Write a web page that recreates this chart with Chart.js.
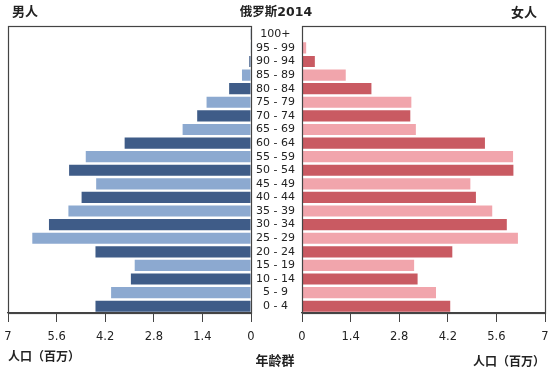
<!DOCTYPE html>
<html>
<head>
<meta charset="utf-8">
<script src="https://cdn.jsdelivr.net/npm/chart.js@4.4.1/dist/chart.umd.min.js"></script>
<style>
  html, body { margin: 0; padding: 0; background: #fff; }
  #wrap { position: relative; width: 552px; height: 370px; overflow: hidden; font-family: "DejaVu Sans", "Noto Sans CJK SC", sans-serif; color: #222; }
  .cv { position: absolute; top: 0; }
  .t { position: absolute; white-space: nowrap; font-weight: bold; line-height: 1; }
</style>
</head>
<body>
<div id="wrap">
  <div class="cv" style="left:290px;width:262px;height:370px;"><canvas id="female"></canvas></div>
  <div class="cv" style="left:0;width:302px;height:370px;"><canvas id="male"></canvas></div>
  <div class="t" id="tMale" style="left:12px;top:5px;font-size:13px;">男人</div>
  <div class="t" id="tTitle" style="left:276px;top:6px;font-size:12.5px;transform:translateX(-50%);">俄罗斯2014</div>
  <div class="t" id="tFemale" style="left:511px;top:6px;font-size:13px;">女人</div>
  <div class="t" id="tXL" style="left:8px;top:351px;font-size:12px;">人口（百万）</div>
  <div class="t" id="tAge" style="left:275px;top:354px;font-size:13px;transform:translateX(-50%);">年龄群</div>
  <div class="t" id="tXR" style="left:473px;top:356px;font-size:12px;">人口（百万）</div>
</div>
<script>
// ---- data (millions), age groups from youngest to oldest ----
const ageGroups = ['0 - 4','5 - 9','10 - 14','15 - 19','20 - 24','25 - 29','30 - 34','35 - 39','40 - 44','45 - 49','50 - 54','55 - 59','60 - 64','65 - 69','70 - 74','75 - 79','80 - 84','85 - 89','90 - 94','95 - 99','100+'];
const maleValues   = [4.48, 4.03, 3.46, 3.35, 4.48, 6.30, 5.82, 5.26, 4.88, 4.46, 5.24, 4.76, 3.64, 1.97, 1.55, 1.28, 0.63, 0.26, 0.05, 0.01, 0.02];
const femaleValues = [4.27, 3.86, 3.33, 3.23, 4.33, 6.22, 5.90, 5.48, 5.01, 4.85, 6.09, 6.08, 5.27, 3.28, 3.12, 3.15, 2.00, 1.26, 0.37, 0.12, 0.02];
const xTickValues  = [0, 1.4, 2.8, 4.2, 5.6, 7];

const maleDark = '#3f5c88', maleLight = '#8ca9d0';
const femaleDark = '#c95a62', femaleLight = '#f1a5ac';
const lineColor = '#444';
const tickFont = { family: 'DejaVu Sans', size: 11.5 };

const frame = {
  id: 'frame',
  afterDraw(chart) {
    const a = chart.chartArea, c = chart.ctx;
    const top = Math.round(a.top - 1.5);
    c.save();
    c.strokeStyle = lineColor;
    c.lineWidth = 1.2;
    c.strokeRect(Math.round(a.left) + 0.5, top + 0.5, Math.round(a.right - a.left), Math.round(a.bottom - top));
    c.restore();
  }
};

function xScale(reverse) {
  return {
    type: 'linear', min: 0, max: 7, reverse: reverse,
    afterBuildTicks: s => { s.ticks = xTickValues.map(v => ({ value: v })); },
    afterFit: s => { s.height = 57; s.paddingLeft = 0; s.paddingRight = 0; },
    grid: { display: true, drawOnChartArea: false, drawTicks: true, tickLength: 9, color: lineColor },
    border: { display: true, color: lineColor, width: 1.2 },
    ticks: { font: tickFont, color: '#222', padding: 8, maxRotation: 0, autoSkip: false,
             callback: v => String(v) }
  };
}

function makeChart(id, values, dark, light, isMale) {
  const yScale = isMale ? {
    type: 'category', reverse: true, display: true, position: 'right',
    afterFit: s => { s.width = 51; },
    grid: { display: false, drawTicks: false },
    border: { display: false },
    ticks: { font: { family: 'DejaVu Sans', size: 11 }, color: '#222', crossAlign: 'center', padding: 5, autoSkip: false }
  } : {
    type: 'category', reverse: true, display: false
  };
  return new Chart(document.getElementById(id), {
    type: 'bar',
    data: {
      labels: ageGroups,
      datasets: [{
        data: values,
        backgroundColor: values.map((_, i) => i % 2 === 0 ? dark : light),
        borderWidth: 0,
        barPercentage: 0.82,
        categoryPercentage: 1.0
      }]
    },
    options: {
      indexAxis: 'y',
      responsive: true,
      maintainAspectRatio: false,
      animation: false,
      layout: { padding: isMale ? { left: 8, right: 0, top: 27.5, bottom: 0 } : { left: 12, right: 7, top: 27.5, bottom: 0 } },
      plugins: { legend: { display: false }, title: { display: false }, tooltip: { enabled: false } },
      scales: { x: xScale(isMale), y: yScale }
    },
    plugins: [frame]
  });
}

makeChart('male', maleValues, maleDark, maleLight, true);
makeChart('female', femaleValues, femaleDark, femaleLight, false);
</script>
</body>
</html>
